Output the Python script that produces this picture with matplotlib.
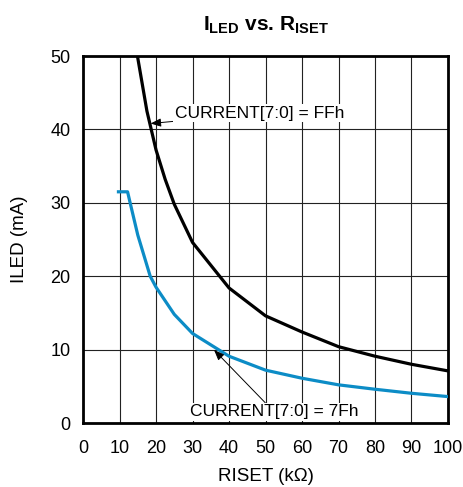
import matplotlib
matplotlib.use("Agg")
import matplotlib.pyplot as plt

plt.rcParams['font.family'] = ['Liberation Sans', 'DejaVu Sans']
plt.rcParams['mathtext.fontset'] = 'custom'
plt.rcParams['mathtext.rm'] = 'Liberation Sans'
plt.rcParams['mathtext.bf'] = 'Liberation Sans:bold'

# ILED vs RISET
riset_ff = [14.9, 17.5, 20, 22.5, 25, 30, 40, 50, 60, 70, 80, 90, 100]
iled_ff = [50, 42.5, 37.2, 33.2, 29.8, 24.6, 18.4, 14.6, 12.4, 10.4, 9.1, 8.0, 7.1]

riset_7f = [9.7, 12.2, 12.9, 15, 18.4, 20, 25, 30, 40, 50, 60, 70, 80, 90, 100]
iled_7f = [31.5, 31.5, 30.0, 25.6, 20.0, 18.5, 14.8, 12.2, 9.1, 7.2, 6.1, 5.2, 4.6, 4.05, 3.6]

xticks = list(range(0, 101, 10))
yticks = list(range(0, 51, 10))

fig = plt.figure(figsize=(4.64, 4.87), dpi=100)
ax = fig.add_axes([0.179, 0.1314, 0.7865, 0.7536])

ax.plot(riset_ff, iled_ff, color='black', lw=2.3, zorder=3)
ax.plot(riset_7f, iled_7f, color='#0C8CC6', lw=2.3, zorder=3)

ax.set_xlim(0, 100)
ax.set_ylim(0, 50)
ax.set_xticks(xticks)
ax.set_yticks(yticks)
ax.grid(True, color='#222222', lw=0.8)
ax.tick_params(axis='x', length=0, labelsize=13, pad=12)
ax.tick_params(axis='y', length=0, labelsize=13, pad=9)
for s in ax.spines.values():
    s.set_linewidth(2.0)

ax.set_xlabel('RISET (kΩ)', fontsize=13.5, labelpad=8)
ax.set_ylabel('ILED (mA)', fontsize=13.5, labelpad=16)
ax.set_title(r'$\mathbf{I_{LED}}$ vs. $\mathbf{R_{ISET}}$', fontsize=15,
             fontweight='bold', pad=18)

box = dict(boxstyle='square,pad=0.1', fc='white', ec='none')
ax.annotate('CURRENT[7:0] = FFh', xy=(18.5, 40.8), xytext=(25.2, 42.2),
            ha='left', va='center', fontsize=12.5, bbox=box, zorder=4,
            arrowprops=dict(arrowstyle='-|>,head_length=0.5,head_width=0.2',
                            color='black', lw=0.7, shrinkA=0, shrinkB=0))
ax.annotate('CURRENT[7:0] = 7Fh', xy=(35.9, 9.95), xytext=(29.3, 1.5),
            ha='left', va='center', fontsize=12.5, bbox=box, zorder=4,
            arrowprops=dict(arrowstyle='-|>,head_length=0.5,head_width=0.2',
                            color='black', lw=0.7, shrinkA=0, shrinkB=0))

fig.savefig('out.png', dpi=100)
